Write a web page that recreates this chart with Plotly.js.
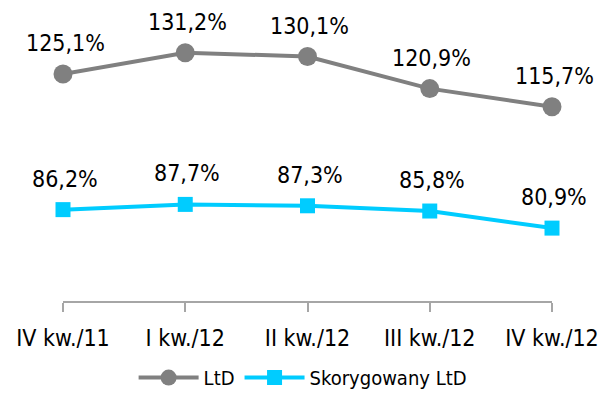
<!DOCTYPE html>
<html>
<head>
<meta charset="utf-8">
<script src="https://cdn.plot.ly/plotly-3.0.1.min.js"></script>
<style>html,body{margin:0;padding:0;background:#fff}#chart{width:605px;height:408px}</style>
</head>
<body>
<div id="chart"></div>
<script>
const categories = ["IV kw./11", "I kw./12", "II kw./12", "III kw./12", "IV kw./12"];
const ltd = [125.1, 131.2, 130.1, 120.9, 115.7];
const ltdAdj = [86.2, 87.7, 87.3, 85.8, 80.9];
const seriesNames = ["LtD", "Skorygowany LtD"];

const FONT = "DejaVu Sans Condensed, DejaVu Sans, sans-serif";
const fmt = v => v.toFixed(1).replace('.', ',') + '%';

const traces = [
  {x: categories, y: ltd, name: seriesNames[0], type: 'scatter', mode: 'lines+markers',
   line: {color: '#808080', width: 4}, marker: {symbol: 'circle', size: 19, color: '#808080'}, cliponaxis: false},
  {x: categories, y: ltdAdj, name: seriesNames[1], type: 'scatter', mode: 'lines+markers',
   line: {color: '#00CCFF', width: 4}, marker: {symbol: 'square', size: 15, color: '#00CCFF'}, cliponaxis: false}
];

const annotations = [];
[ltd, ltdAdj].forEach(arr => arr.forEach((v, i) => {
  annotations.push({x: categories[i], y: v, text: fmt(v), showarrow: false, xanchor: 'center', yanchor: 'middle',
    yshift: 31, xshift: 2, font: {family: FONT, size: 23, color: '#000'}});
}));

const layout = {
  width: 605, height: 408,
  margin: {l: 63, r: 53, t: 22, b: 105.5},
  paper_bgcolor: '#fff', plot_bgcolor: '#fff',
  showlegend: true,
  legend: {orientation: 'h', x: 0.49, xanchor: 'center', y: -0.27, yanchor: 'middle',
    font: {family: FONT, size: 20, color: '#000'}, itemwidth: 60},
  xaxis: {type: 'category', range: [0, 4], showline: true, linecolor: '#A6A6A6', linewidth: 2,
    ticks: 'outside', ticklen: 9, tickwidth: 2, tickcolor: '#A6A6A6', showgrid: false, zeroline: false,
    tickfont: {family: FONT, size: 23, color: '#000'}, ticklabelstandoff: 6},
  yaxis: {range: [60, 140], visible: false, showgrid: false, zeroline: false},
  annotations: annotations
};

Plotly.newPlot('chart', traces, layout, {displayModeBar: false, staticPlot: true});
</script>
</body>
</html>
